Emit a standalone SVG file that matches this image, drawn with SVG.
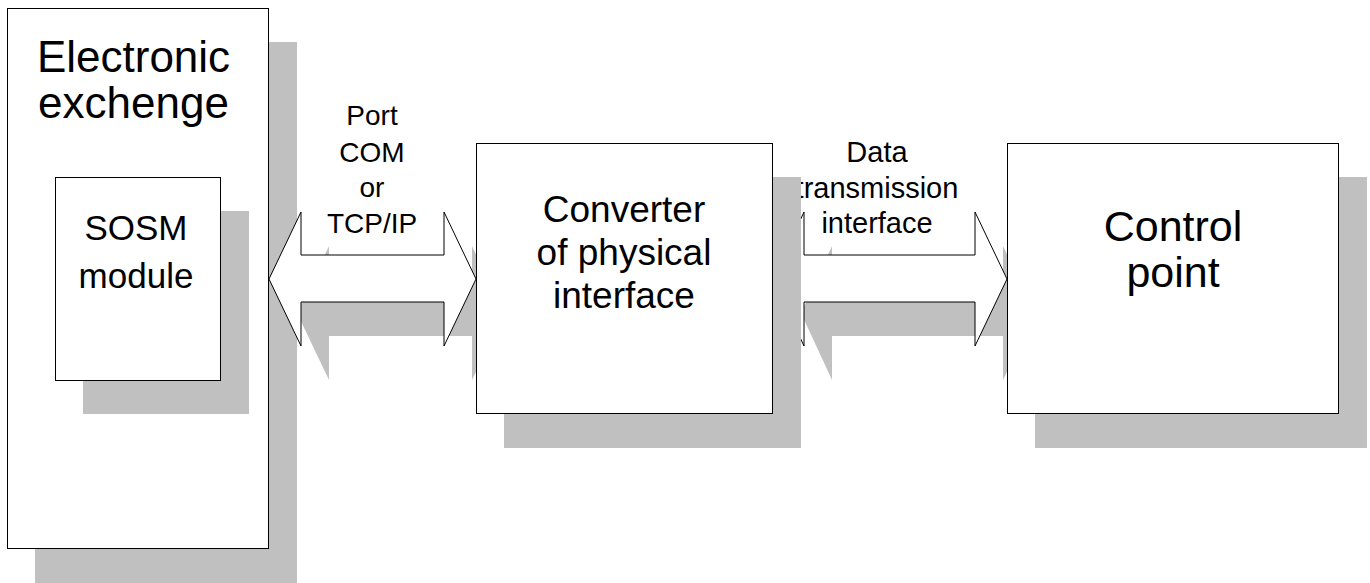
<svg xmlns="http://www.w3.org/2000/svg" width="1370" height="583" viewBox="0 0 1370 583">
<style>
.shadow{fill:#c0c0c0;stroke:none}
.box{fill:#ffffff;stroke:#000000;stroke-width:1}
.arrow{fill:#ffffff;stroke:#000000;stroke-width:1;stroke-linejoin:miter}
text{font-family:"Liberation Sans",Arial,sans-serif;fill:#000000;text-anchor:middle}
</style>
<rect width="1370" height="583" fill="#ffffff"/>
<g id="electronic-exchange">
<rect class="shadow" x="35" y="42" width="262" height="541"/>
<rect class="box" x="7.5" y="8.5" width="261" height="540"/>
<text x="133.5" y="72" font-size="44">Electronic</text>
<text x="133.5" y="118" font-size="44">exchenge</text>
</g>
<g id="sosm-module">
<rect class="shadow" x="83" y="211" width="166" height="203"/>
<rect class="box" x="55.5" y="177.5" width="165" height="203"/>
<text x="136" y="240" font-size="35">SOSM</text>
<text x="136" y="288" font-size="35">module</text>
</g>
<g id="connectors">
<polygon class="shadow" points="297,313 329,246 329,289 472,289 472,246 504,313 472,380 472,336 329,336 329,380"/>
<polygon class="shadow" points="801,313 832,246 832,289 1003,289 1003,246 1035,313 1003,380 1003,336 832,336 832,380"/>
<polygon class="arrow" points="269,279 301,212 301,255 444,255 444,212 476,279 444,346 444,302 301,302 301,346"/>
<polygon class="arrow" points="773,279 804,212 804,255 975,255 975,212 1007,279 975,346 975,302 804,302 804,346"/>
<text x="372" y="125" font-size="28">Port</text>
<text x="372" y="162" font-size="28">COM</text>
<text x="372" y="197" font-size="28">or</text>
<text x="372" y="233" font-size="28">TCP/IP</text>
<text x="877" y="162" font-size="29">Data</text>
<text x="877" y="198" font-size="29">transmission</text>
<text x="877" y="233" font-size="29">interface</text>
</g>
<g id="converter">
<rect class="shadow" x="504" y="177" width="297" height="271"/>
<rect class="box" x="476.5" y="143.5" width="296" height="270"/>
<text x="624" y="222" font-size="37">Converter</text>
<text x="624" y="265" font-size="37">of physical</text>
<text x="624" y="308" font-size="37">interface</text>
</g>
<g id="control-point">
<rect class="shadow" x="1035" y="177" width="332" height="271"/>
<rect class="box" x="1007.5" y="143.5" width="331" height="270"/>
<text x="1173" y="241" font-size="43">Control</text>
<text x="1173" y="287" font-size="43">point</text>
</g>
</svg>
